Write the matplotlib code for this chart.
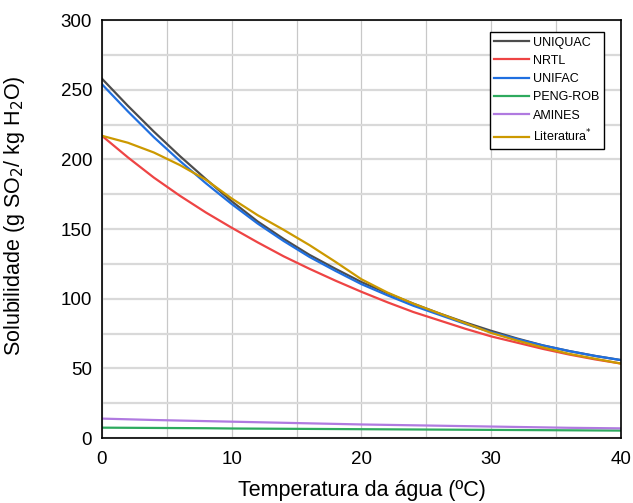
import numpy as np
import matplotlib.pyplot as plt
from matplotlib.ticker import MultipleLocator

plt.rcParams['font.family'] = ['Liberation Sans', 'DejaVu Sans']

temp = [0, 2, 4, 6, 8, 10, 12, 14, 16, 18, 20, 22, 24, 26, 28, 30, 32, 34, 36, 38, 40]
uniquac = [258, 238.5, 220, 202.5, 186, 170, 155.5, 143, 131.5, 121.5, 112, 104, 96.5, 89.5, 83, 77, 71.5, 66.5, 62.5, 59, 56]
nrtl = [217, 201.5, 187, 174, 162, 151, 140.5, 130.5, 121.5, 113, 105, 97.5, 90.5, 84.5, 78.5, 73, 68.5, 64, 60, 56.5, 53.5]
unifac = [254, 234.5, 216, 199, 183, 168, 154, 141.5, 130, 120, 110.5, 102.5, 95, 88.5, 82, 76, 71, 66.5, 62.5, 59, 56]
pengrob = [7.5, 7.4, 7.3, 7.2, 7.1, 6.9, 6.8, 6.7, 6.6, 6.5, 6.4, 6.3, 6.2, 6.1, 6.0, 5.9, 5.8, 5.7, 5.6, 5.5, 5.4]
amines = [14, 13.5, 13.0, 12.6, 12.2, 11.8, 11.4, 11.0, 10.6, 10.2, 9.8, 9.5, 9.2, 8.9, 8.6, 8.3, 8.0, 7.7, 7.4, 7.2, 7.0]
literatura = [217, 212, 205, 196, 185.5, 172, 160, 149.5, 138.5, 126.5, 114, 104.5, 96.5, 89.5, 82.5, 75.5, 70, 65, 60.5, 57, 53.5]

series = [
    ("UNIQUAC", uniquac, "#4d4d4d"),
    ("NRTL", nrtl, "#ee4444"),
    ("UNIFAC", unifac, "#1f6fe0"),
    ("PENG-ROB", pengrob, "#2eaa5e"),
    ("AMINES", amines, "#b07ae0"),
    ("Literatura$^{*}$", literatura, "#cc9900"),
]

fig = plt.figure(figsize=(6.33, 5.03), dpi=100)
ax = fig.add_axes([0.161, 0.129, 0.820, 0.831])

for name, vals, col in series:
    ax.plot(temp, vals, color=col, lw=1.6, label=name)

ax.set_xlim(0, 40)
ax.set_ylim(0, 300)
ax.xaxis.set_major_locator(MultipleLocator(10))
ax.xaxis.set_minor_locator(MultipleLocator(5))
ax.yaxis.set_major_locator(MultipleLocator(50))
ax.yaxis.set_minor_locator(MultipleLocator(25))
ax.grid(axis='x', which='both', color='#c8c8c8', lw=0.9)
ax.grid(axis='y', which='both', color='#d9d9d9', lw=1.6)
ax.set_axisbelow(True)
ax.tick_params(which='both', length=0, labelsize=13.5, pad=7)
ax.tick_params(axis='x', pad=9)
for s in ax.spines.values():
    s.set_linewidth(1.2)

ax.set_xlabel("Temperatura da água (ºC)", fontsize=15.5, labelpad=9)
ax.set_ylabel("Solubilidade (g SO$_2$/ kg H$_2$O)", fontsize=15.5, labelpad=13)
ax.yaxis.set_label_coords(-0.145, 0.533)

leg = ax.legend(loc='upper right', bbox_to_anchor=(0.967, 0.971), fontsize=9,
                fancybox=False, framealpha=1, edgecolor='black',
                handlelength=2.8, handletextpad=0.3, labelspacing=0.5,
                borderpad=0.35, borderaxespad=0)
leg.get_frame().set_linewidth(1.0)

fig.savefig("out.png", dpi=100)
